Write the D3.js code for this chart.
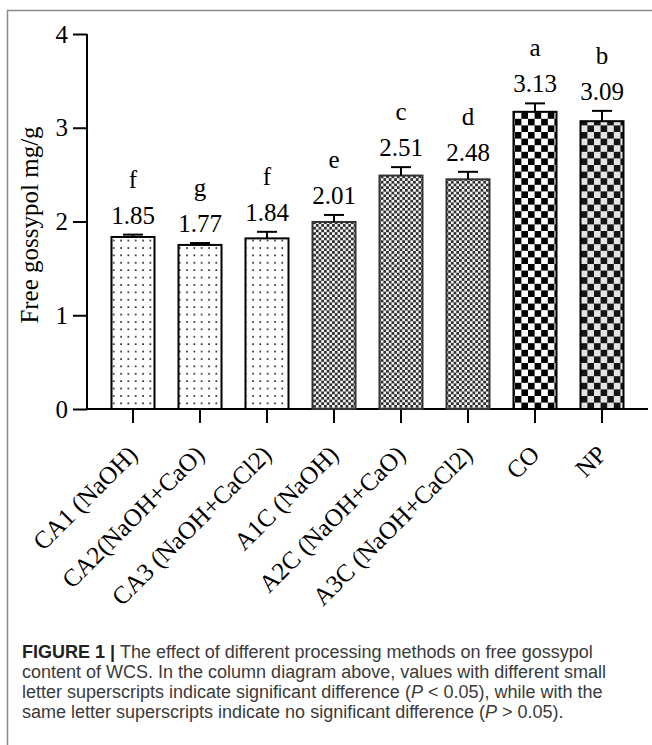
<!DOCTYPE html>
<html>
<head>
<meta charset="utf-8">
<script src="https://cdn.jsdelivr.net/npm/d3@7"></script>
<style>
  body { margin: 0; background: #fff; }
  .axis path, .axis line { stroke: #000; stroke-width: 2px; }
  .axis text { font-family: "Liberation Serif", "Times New Roman", serif; fill: #000; }
  .caption { font-family: "Liberation Sans", Arial, sans-serif; font-size: 18px; fill: #3a3a3a; }
</style>
</head>
<body>
<div id="chart"></div>
<script>
// data
var groups = ["CA1 (NaOH)", "CA2(NaOH+CaO)", "CA3 (NaOH+CaCl2)", "A1C (NaOH)", "A2C (NaOH+CaO)", "A3C (NaOH+CaCl2)", "CO", "NP"];
var means = [1.835, 1.75, 1.82, 1.995, 2.49, 2.45, 3.17, 3.07];
var errors = [0.025, 0.02, 0.07, 0.075, 0.09, 0.08, 0.09, 0.11];
var valueLabels = ["1.85", "1.77", "1.84", "2.01", "2.51", "2.48", "3.13", "3.09"];
var letters = ["f", "g", "f", "e", "c", "d", "a", "b"];
var yTicks = [0, 1, 2, 3, 4];
var captionLines = [
    "The effect of different processing methods on free gossypol",
    "content of WCS. In the column diagram above, values with different small",
    "letter superscripts indicate significant difference (P < 0.05), while with the",
    "same letter superscripts indicate no significant difference (P > 0.05)."
];

var width = 652, height = 745;
var serif = "'Liberation Serif', 'Times New Roman', serif";

var svg = d3.select("#chart").append("svg")
    .attr("width", width)
    .attr("height", height);

// frame round the figure
svg.append("rect")
    .attr("x", 7.5).attr("y", 10.5)
    .attr("width", 700).attr("height", 800)
    .attr("fill", "none")
    .attr("stroke", "#8a8a8a")
    .attr("stroke-width", 1.5);

// PATTERNS

var defs = svg.append("defs");

var dots = defs.append("pattern")
    .attr("id", "dots")
    .attr("patternUnits", "userSpaceOnUse")
    .attr("width", 7.33).attr("height", 7.4);
dots.append("rect").attr("width", 7.33).attr("height", 7.4).attr("fill", "#fff");
dots.append("rect").attr("x", 3).attr("y", 3).attr("width", 1.6).attr("height", 1.6).attr("fill", "#111");

function checker(id, size, dark, light) {
    var p = defs.append("pattern")
        .attr("id", id)
        .attr("patternUnits", "userSpaceOnUse")
        .attr("width", size * 2).attr("height", size * 2);
    p.append("rect").attr("width", size * 2).attr("height", size * 2).attr("fill", light);
    p.append("rect").attr("width", size).attr("height", size).attr("fill", dark);
    p.append("rect").attr("x", size).attr("y", size).attr("width", size).attr("height", size).attr("fill", dark);
}
checker("fine", 2.7, "#2e2e2e", "#f4f4f4");
checker("checkW", 6.6, "#000", "#fff");
checker("checkG", 6.6, "#151515", "#e4e4e4");

var fills = {"CA1 (NaOH)": "dots", "CA2(NaOH+CaO)": "dots", "CA3 (NaOH+CaCl2)": "dots",
    "A1C (NaOH)": "fine", "A2C (NaOH+CaO)": "fine", "A3C (NaOH+CaCl2)": "fine",
    "CO": "checkW", "NP": "checkG"};

// SCALES

var x = d3.scaleBand()
    .domain(groups)
    .range([99.5, 635.5])
    .paddingInner(0.358)
    .paddingOuter(0.179);

var y = d3.scaleLinear()
    .domain([0, 4])
    .range([409, 34]);

var data = groups.map(function(g, i) {
    return {name: g, mean: means[i], err: errors[i], label: valueLabels[i], letter: letters[i]};
});

// ADD AXES

var yAxis = d3.axisLeft(y)
    .tickValues(yTicks)
    .tickSize(14)
    .tickPadding(5)
    .tickFormat(d3.format("d"));

var gy = svg.append("g")
    .attr("class", "axis")
    .attr("transform", "translate(87,0)")
    .call(yAxis);
gy.select(".domain").attr("d", "M0," + y(4) + "V" + y(0));
gy.selectAll("text").style("font-size", "25px");

var xAxis = d3.axisBottom(x)
    .tickSize(14)
    .tickSizeOuter(0);

var gx = svg.append("g")
    .attr("class", "axis")
    .attr("transform", "translate(0," + y(0) + ")")
    .call(xAxis);
gx.select(".domain").attr("d", "M87,0H648");
gx.selectAll("text")
    .style("font-size", "25px")
    .style("text-anchor", "end")
    .attr("x", 0).attr("y", 0).attr("dy", 0)
    .attr("transform", "translate(6,47) rotate(-45)");

// ADD AXIS LABEL

svg.append("text")
    .attr("transform", "translate(38,225) rotate(-90)")
    .style("text-anchor", "middle")
    .style("font-family", serif)
    .style("font-size", "25px")
    .text("Free gossypol mg/g");

// ADD BARS

svg.selectAll(".bar")
    .data(data)
    .enter().append("rect")
    .attr("class", "bar")
    .attr("x", function(d) { return x(d.name); })
    .attr("y", function(d) { return y(d.mean); })
    .attr("width", x.bandwidth())
    .attr("height", function(d) { return y(0) - y(d.mean); })
    .attr("fill", function(d) { return "url(#" + fills[d.name] + ")"; })
    .attr("stroke", function(d) { return fills[d.name] == "fine" ? "#333" : "#000"; })
    .attr("stroke-width", 2);

// ADD ERROR BARS

var err = svg.selectAll(".err")
    .data(data)
    .enter().append("g")
    .attr("class", "err")
    .attr("stroke", "#000")
    .attr("stroke-width", 2);

err.append("line")
    .attr("x1", function(d) { return x(d.name) + x.bandwidth() / 2; })
    .attr("x2", function(d) { return x(d.name) + x.bandwidth() / 2; })
    .attr("y1", function(d) { return y(d.mean); })
    .attr("y2", function(d) { return y(d.mean + d.err); });

err.append("line")
    .attr("x1", function(d) { return x(d.name) + x.bandwidth() / 2 - 10; })
    .attr("x2", function(d) { return x(d.name) + x.bandwidth() / 2 + 10; })
    .attr("y1", function(d) { return y(d.mean + d.err); })
    .attr("y2", function(d) { return y(d.mean + d.err); });

// ADD VALUE AND LETTER LABELS

svg.selectAll(".value")
    .data(data)
    .enter().append("text")
    .attr("class", "value")
    .attr("x", function(d) { return x(d.name) + x.bandwidth() / 2; })
    .attr("y", function(d) { return y(d.mean + d.err) - 11; })
    .style("text-anchor", "middle")
    .style("font-family", serif)
    .style("font-size", "25px")
    .text(function(d) { return d.label; });

svg.selectAll(".letter")
    .data(data)
    .enter().append("text")
    .attr("class", "letter")
    .attr("x", function(d) { return x(d.name) + x.bandwidth() / 2; })
    .attr("y", function(d) { return y(d.mean + d.err) - 47; })
    .style("text-anchor", "middle")
    .style("font-family", serif)
    .style("font-size", "25px")
    .text(function(d) { return d.letter; });

// CAPTION

var cap = svg.append("text")
    .attr("class", "caption")
    .attr("x", 22)
    .attr("y", 658);

cap.append("tspan")
    .attr("font-weight", "bold")
    .attr("fill", "#222")
    .text("FIGURE 1 | ");

captionLines.forEach(function(line, i) {
    var t = i == 0 ? cap : svg.append("text")
        .attr("class", "caption")
        .attr("x", 22)
        .attr("y", 658 + i * 20);
    // italic P inside the parentheses
    var parts = line.split("(P ");
    t.append("tspan").text(parts[0]);
    if (parts.length > 1) {
        t.append("tspan").text("(");
        t.append("tspan").attr("font-style", "italic").text("P");
        t.append("tspan").text(" " + parts[1]);
    }
});
</script>
</body>
</html>
